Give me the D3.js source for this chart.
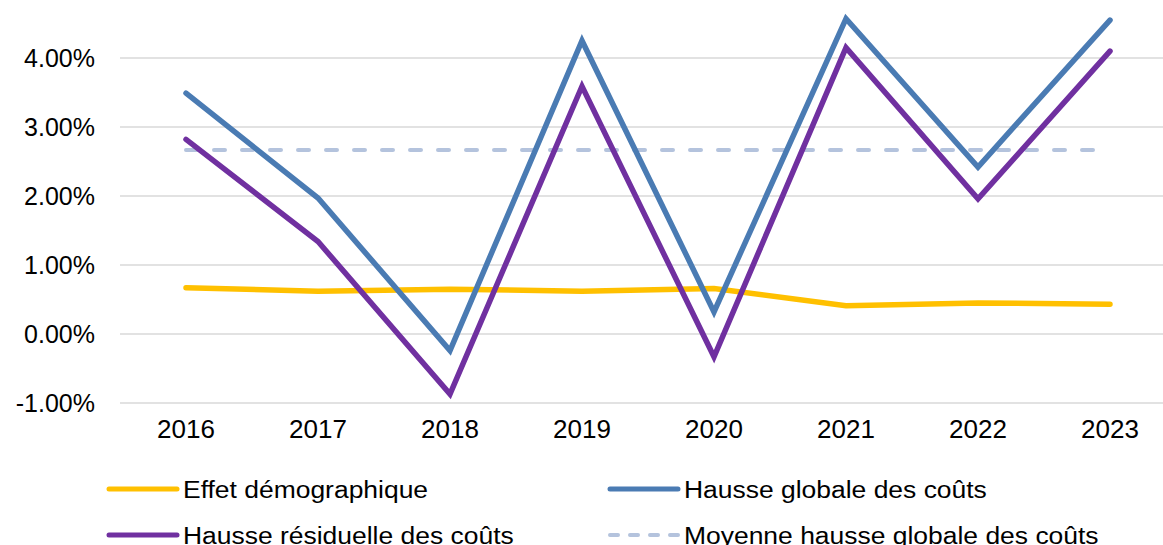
<!DOCTYPE html>
<html>
<head>
<meta charset="utf-8">
<script src="https://d3js.org/d3.v7.min.js"></script>
<style>
  body { margin: 0; background: white; }
  text { font-family: "Liberation Sans", Arial, sans-serif; fill: #000; }
</style>
</head>
<body>
<svg id="chart"></svg>
<script>
var years = ["2016", "2017", "2018", "2019", "2020", "2021", "2022", "2023"];
var effetDemo = [0.67, 0.62, 0.65, 0.62, 0.66, 0.41, 0.45, 0.43];
var hausseGlobale = [3.49, 1.97, -0.24, 4.25, 0.32, 4.57, 2.42, 4.55];
var hausseResiduelle = [2.82, 1.34, -0.87, 3.59, -0.33, 4.15, 1.96, 4.10];
var moyenneGlobale = d3.mean(hausseGlobale);
var yTicks = [-1, 0, 1, 2, 3, 4];

var width = 1163, height = 545;

var svg = d3.select("#chart")
  .attr("width", width)
  .attr("height", height);

var x = d3.scaleBand()
  .domain(years)
  .range([120, 1176]);

var y = d3.scaleLinear()
  .domain([-1, 5])
  .range([403, -11]);

function cx(d) { return x(d) + x.bandwidth() / 2; }

// gridlines
svg.append("g")
  .selectAll("line")
  .data(yTicks)
  .enter().append("line")
  .attr("x1", 120)
  .attr("x2", 1176)
  .attr("y1", function(d) { return y(d); })
  .attr("y2", function(d) { return y(d); })
  .attr("stroke", "#d9d9d9")
  .attr("stroke-width", 1.5);

// y axis labels
var yAxis = d3.axisLeft(y)
  .tickValues(yTicks)
  .tickSize(0)
  .tickPadding(0)
  .tickFormat(function(d) { return d.toFixed(2) + "%"; });

svg.append("g")
  .attr("transform", "translate(95,0)")
  .call(yAxis)
  .call(function(g) { g.select(".domain").remove(); })
  .selectAll("text")
  .style("font-size", "25px")
  .style("font-family", "Liberation Sans, Arial, sans-serif")
  .attr("fill", "#000");

// x axis labels
var xAxis = d3.axisBottom(x).tickSize(0).tickPadding(0);
svg.append("g")
  .attr("transform", "translate(0,420)")
  .call(xAxis)
  .call(function(g) { g.select(".domain").remove(); })
  .selectAll("text")
  .style("font-size", "26px")
  .style("font-family", "Liberation Sans, Arial, sans-serif")
  .attr("fill", "#000");

var line = d3.line()
  .x(function(d, i) { return cx(years[i]); })
  .y(function(d) { return y(d); });

var series = [
  { name: "Effet démographique", values: effetDemo, color: "#FFC000", dash: null },
  { name: "Hausse globale des coûts", values: hausseGlobale, color: "#4A7BB3", dash: null },
  { name: "Hausse résiduelle des coûts", values: hausseResiduelle, color: "#7030A0", dash: null },
  { name: "Moyenne hausse globale des coûts", values: years.map(function() { return moyenneGlobale; }), color: "#B4C3DD", dash: "11,17" }
];

// draw order: dashed first, then yellow, then blue, purple
var drawOrder = [3, 0, 1, 2];
drawOrder.forEach(function(k) {
  var s = series[k];
  svg.append("path")
    .datum(s.values)
    .attr("d", line)
    .attr("fill", "none")
    .attr("stroke", s.color)
    .attr("stroke-width", s.dash ? 4 : 5.5)
    .attr("stroke-linejoin", "miter")
    .attr("stroke-linecap", "round")
    .attr("stroke-dasharray", s.dash);
});

// legend
var legendPos = [
  { x: 107, y: 489 },
  { x: 608, y: 489 },
  { x: 107, y: 535 },
  { x: 608, y: 535 }
];

var legend = svg.append("g")
  .selectAll("g")
  .data(series)
  .enter().append("g")
  .attr("transform", function(d, i) { return "translate(" + legendPos[i].x + "," + legendPos[i].y + ")"; });

legend.append("line")
  .attr("x1", 2)
  .attr("x2", 70)
  .attr("y1", 0)
  .attr("y2", 0)
  .attr("stroke", function(d) { return d.color; })
  .attr("stroke-width", function(d) { return d.dash ? 4 : 5; })
  .attr("stroke-linecap", "round")
  .attr("stroke-dasharray", function(d) { return d.dash ? "8,12" : null; });

legend.append("text")
  .attr("transform", "translate(76,8.5) scale(1.08,1)")
  .style("font-size", "24.5px")
  .text(function(d) { return d.name; });
</script>
</body>
</html>
